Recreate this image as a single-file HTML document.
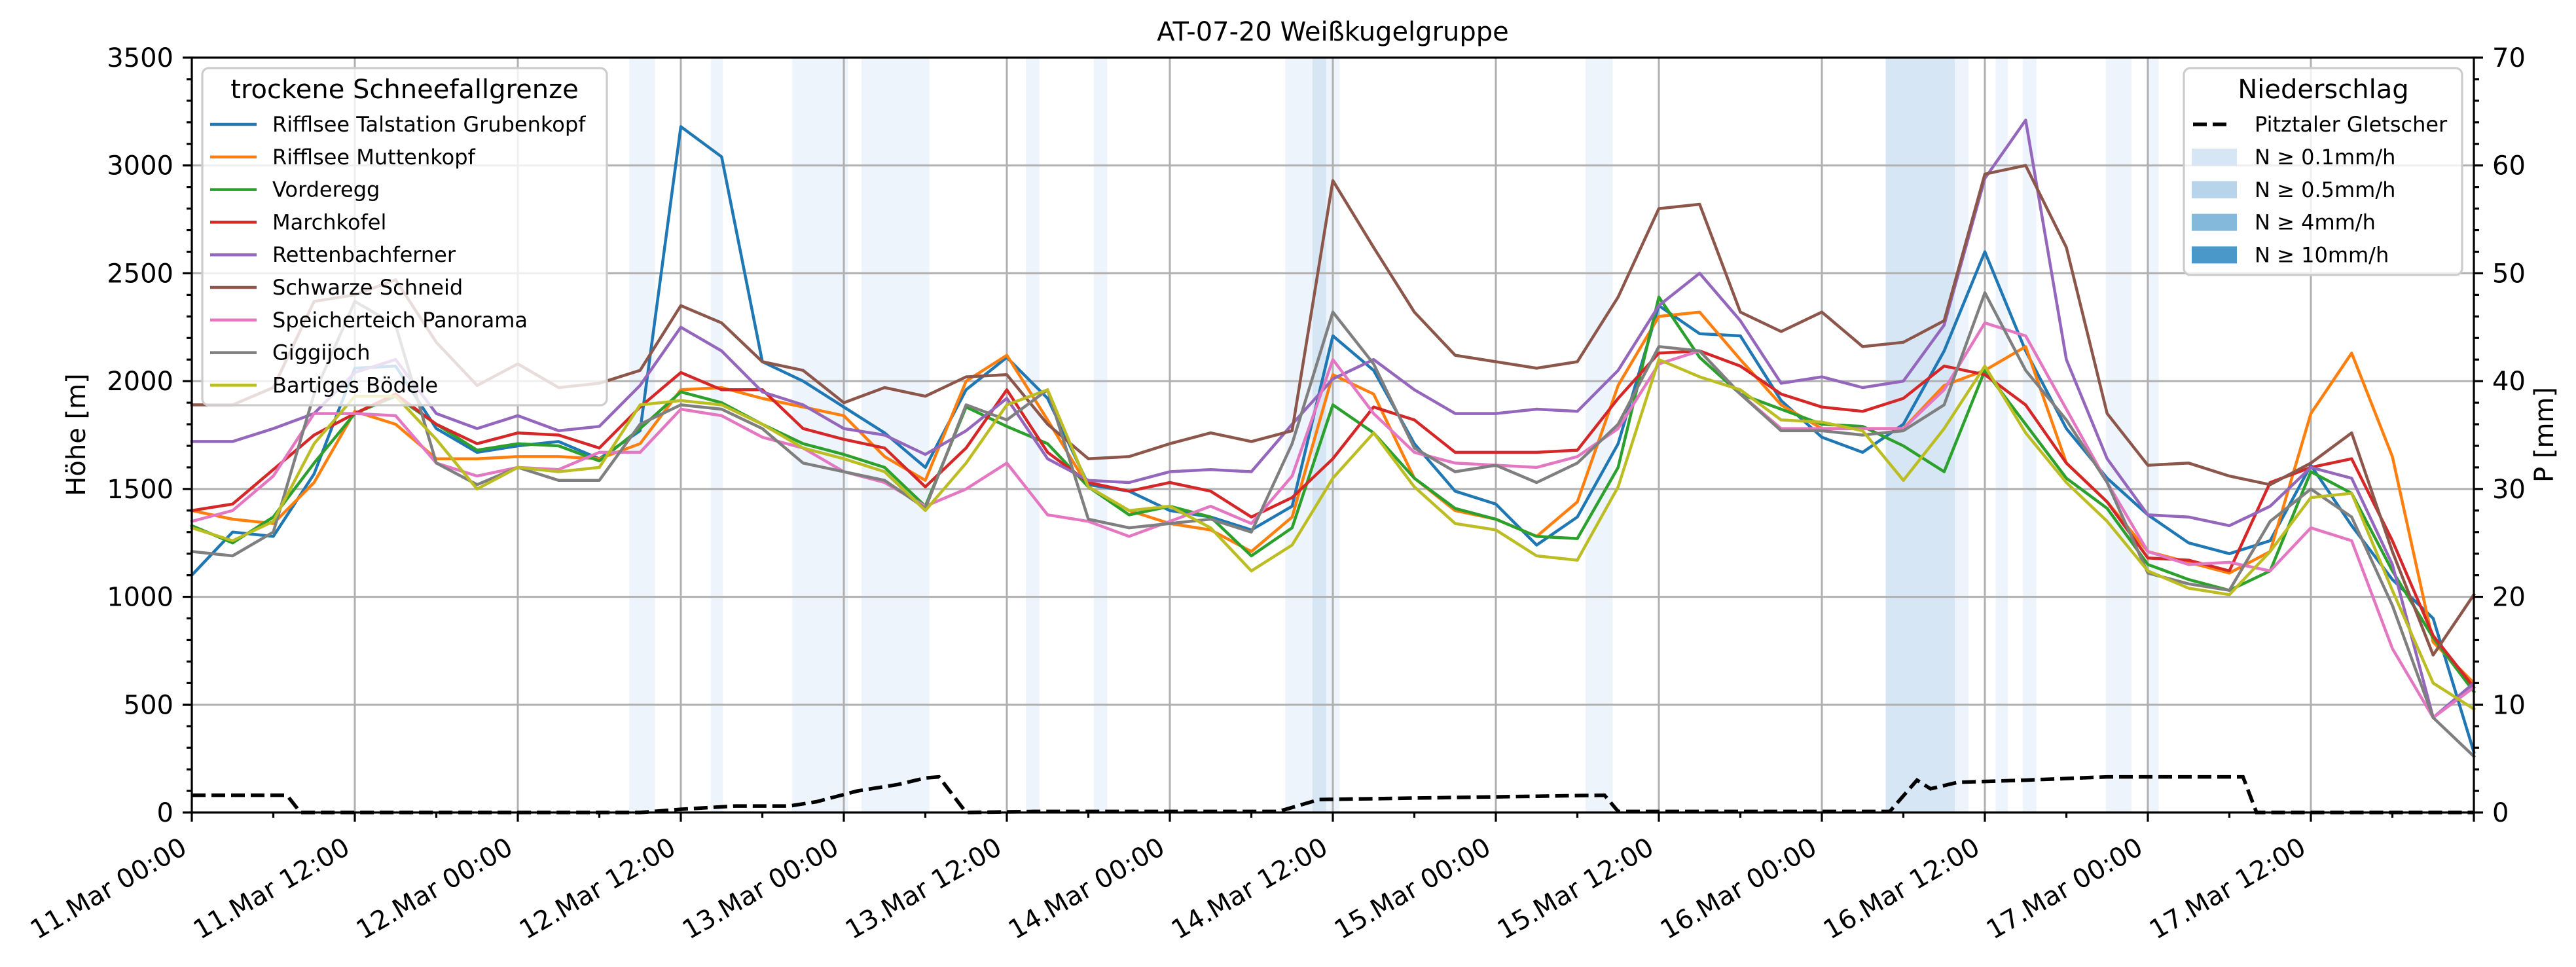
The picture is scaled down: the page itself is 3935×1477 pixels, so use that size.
<!DOCTYPE html>
<html><head><meta charset="utf-8"><title>AT-07-20 Weißkugelgruppe</title>
<style>
html,body{margin:0;padding:0;background:#fff;}
svg{display:block;font-family:"DejaVu Sans","Liberation Sans",sans-serif;}
</style></head>
<body>
<svg id="chart" xmlns="http://www.w3.org/2000/svg" width="3935" height="1477" viewBox="0 0 3935 1477">
<rect x="0" y="0" width="3935" height="1477" fill="#fff"/>
<g id="bands"></g>
<g id="grid"></g>
<g id="series"></g>
<g id="precip"></g>
<g id="axes"></g>
<text x="2036" y="62" font-size="40" text-anchor="middle">AT-07-20 Weißkugelgruppe</text>
<text transform="translate(130,664) rotate(-90)" font-size="40" text-anchor="middle">Höhe [m]</text>
<text transform="translate(3900,664) rotate(-90)" font-size="40" text-anchor="middle">P [mm]</text>
<g id="legend-left"></g>
<g id="legend-right"></g>
</svg>
<script>
const hours = [0,3,6,9,12,15,18,21,24,27,30,33,36,39,42,45,48,51,54,57,60,63,66,69,72,75,78,81,84,87,90,93,96,99,102,105,108,111,114,117,120,123,126,129,132,135,138,141,144,147,150,153,156,159,162,165,168];
const seriesNames = ["Rifflsee Talstation Grubenkopf","Rifflsee Muttenkopf","Vorderegg","Marchkofel","Rettenbachferner","Schwarze Schneid","Speicherteich Panorama","Giggijoch","Bartiges Bödele"];
const seriesColors = ["#1f77b4","#ff7f0e","#2ca02c","#d62728","#9467bd","#8c564b","#e377c2","#7f7f7f","#bcbd22"];
const blueVals = [1100,1300,1280,1570,2060,2070,1780,1670,1700,1720,1640,1770,3180,3040,2090,2000,1880,1760,1600,1960,2110,1920,1520,1490,1400,1370,1310,1420,2210,2050,1710,1490,1430,1240,1370,1710,2350,2220,2210,1910,1740,1670,1800,2140,2600,2140,1780,1550,1380,1250,1200,1260,1610,1330,1080,900,280];
const orangeVals = [1400,1360,1340,1530,1860,1800,1640,1640,1650,1650,1640,1710,1960,1970,1920,1880,1840,1650,1540,2000,2120,1820,1510,1400,1340,1310,1210,1370,2030,1940,1550,1400,1360,1280,1440,1980,2300,2320,2100,1890,1780,1780,1780,1980,2050,2160,1620,1440,1210,1160,1110,1210,1850,2130,1650,790,600];
const greenVals = [1330,1250,1370,1620,1850,1930,1800,1680,1710,1700,1630,1780,1950,1900,1800,1710,1660,1600,1420,1880,1790,1710,1510,1380,1420,1370,1190,1320,1890,1760,1550,1410,1360,1280,1270,1600,2390,2110,1940,1870,1800,1790,1700,1580,2050,1800,1550,1410,1150,1080,1030,1120,1580,1480,1120,810,560];
const redVals = [1400,1430,1590,1750,1850,1940,1800,1710,1760,1750,1690,1880,2040,1960,1960,1780,1730,1690,1510,1690,1960,1670,1530,1490,1530,1490,1370,1460,1640,1880,1820,1670,1670,1670,1680,1920,2130,2140,2070,1940,1880,1860,1920,2070,2030,1890,1620,1440,1180,1170,1120,1530,1600,1640,1260,820,580];
const purpleVals = [1720,1720,1780,1850,2040,2100,1850,1780,1840,1770,1790,1980,2250,2140,1950,1890,1780,1750,1660,1770,1920,1640,1540,1530,1580,1590,1580,1800,2010,2100,1960,1850,1850,1870,1860,2050,2350,2500,2280,1990,2020,1970,2000,2260,2940,3210,2100,1640,1380,1370,1330,1420,1600,1550,1150,440,600];
const brownVals = [1890,1890,1970,2370,2400,2470,2180,1980,2080,1970,1990,2050,2350,2270,2090,2050,1900,1970,1930,2020,2030,1800,1640,1650,1710,1760,1720,1770,2930,2620,2320,2120,2090,2060,2090,2390,2800,2820,2320,2230,2320,2160,2180,2280,2960,3000,2620,1850,1610,1620,1560,1520,1620,1760,1210,730,1010];
const pinkVals = [1350,1400,1560,1850,1850,1840,1620,1560,1600,1590,1670,1670,1870,1840,1740,1690,1580,1530,1420,1500,1620,1380,1350,1280,1350,1420,1340,1560,2100,1850,1670,1620,1610,1600,1650,1780,2080,2140,1940,1780,1780,1780,1780,1960,2270,2210,1870,1530,1210,1150,1160,1120,1320,1260,760,440,580];
const grayVals = [1210,1190,1300,1940,2370,2260,1620,1520,1600,1540,1540,1800,1890,1870,1780,1620,1580,1540,1410,1890,1820,1960,1360,1320,1340,1360,1300,1710,2320,2080,1690,1580,1610,1530,1620,1800,2160,2140,1940,1770,1770,1750,1770,1890,2410,2050,1820,1530,1110,1060,1030,1350,1500,1370,960,440,260];
const oliveVals = [1320,1260,1350,1710,1930,1930,1730,1500,1600,1580,1600,1890,1910,1890,1800,1690,1640,1580,1400,1620,1890,1960,1510,1400,1420,1320,1120,1240,1550,1760,1510,1340,1310,1190,1170,1510,2100,2020,1960,1820,1810,1770,1540,1780,2070,1760,1530,1350,1120,1040,1010,1210,1460,1480,1030,600,480];
const precipHours = [0,7,8,33,36,40,44,46,49,52,54,55,57,62,80,83,104,105,125,127,128,130,135,141,151,152,168];
const precipVals = [1.6,1.6,0,0,0.3,0.6,0.6,1.0,2.0,2.6,3.2,3.3,0,0.1,0.1,1.2,1.6,0.1,0.1,3.0,2.2,2.8,3.0,3.3,3.3,0,0];
const bandStart = [32.2,38.2,44.2,49.3,61.4,66.4,80.5,82.5,102.6,124.7,129.8,132.8,134.8,140.9,143.9];
const bandEnd = [34.1,39.1,48.3,54.3,62.4,67.4,84.5,83.5,104.6,129.8,130.8,133.7,135.8,142.8,144.8];
const bandLevel = [0,0,0,0,0,0,0,1,0,1,0,0,0,0,0];
const yTicks = [0,500,1000,1500,2000,2500,3000,3500];
const y2Ticks = [0,10,20,30,40,50,60,70];
const xTickHours = [0,12,24,36,48,60,72,84,96,108,120,132,144,156];
const xTickLabels = ["11.Mar 00:00","11.Mar 12:00","12.Mar 00:00","12.Mar 12:00","13.Mar 00:00","13.Mar 12:00","14.Mar 00:00","14.Mar 12:00","15.Mar 00:00","15.Mar 12:00","16.Mar 00:00","16.Mar 12:00","17.Mar 00:00","17.Mar 12:00"];
const legendPrecipLabels = ["N ≥ 0.1mm/h","N ≥ 0.5mm/h","N ≥ 4mm/h","N ≥ 10mm/h"];
const legendPrecipColors = ["#d6e6f4","#b7d4ea","#84b9db","#4a98c9"];
const bandColors = ["#eef4fb","#d6e6f4"];

const NS="http://www.w3.org/2000/svg";
const L=293,R=3779,T=88,B=1241;
const xMax=168,yMax=3500,y2Max=70;
const X=h=>L+h/xMax*(R-L);
const Y=v=>B-v/yMax*(B-T);
const Y2=p=>B-p/y2Max*(B-T);
function mk(tag,attrs,parent){const e=document.createElementNS(NS,tag);for(const k in attrs)e.setAttribute(k,attrs[k]);parent.appendChild(e);return e;}

const gB=document.getElementById('bands');
bandStart.forEach((s,i)=>{
  const r=mk('rect',{x:X(s),y:T,width:X(bandEnd[i])-X(s),height:B-T,fill:bandColors[bandLevel[i]]},gB);
  
  
});

const gG=document.getElementById('grid');
xTickHours.forEach(h=>{
  const l=mk('line',{x1:X(h),x2:X(h),y1:T,y2:B,stroke:'#b0b0b0','stroke-width':3},gG);
  
  
});
yTicks.forEach(v=>{
  const l=mk('line',{x1:L,x2:R,y1:Y(v),y2:Y(v),stroke:'#b0b0b0','stroke-width':3},gG);
  
  
});

const allVals=[blueVals,orangeVals,greenVals,redVals,purpleVals,brownVals,pinkVals,grayVals,oliveVals];
const gS=document.getElementById('series');
allVals.forEach((vals,i)=>{
  const pts=vals.map((v,j)=>X(hours[j]).toFixed(1)+','+Y(v).toFixed(1)).join(' ');
  const p=mk('polyline',{points:pts,fill:'none',stroke:seriesColors[i],'stroke-width':4.5,'stroke-linejoin':'round','stroke-linecap':'square'},gS);
  
  
});

const gP=document.getElementById('precip');
const pp=mk('polyline',{points:precipVals.map((v,j)=>X(precipHours[j]).toFixed(1)+','+Y2(v).toFixed(1)).join(' '),fill:'none',stroke:'#000','stroke-width':5.5,'stroke-dasharray':'21 9'},gP);



const gA=document.getElementById('axes');
const frame=mk('rect',{x:L,y:T,width:R-L,height:B-T,fill:'none',stroke:'#000','stroke-width':3.2},gA);


for(let h=0;h<=xMax;h+=6){
  const major=h%12===0;
  const t=mk('line',{x1:X(h),x2:X(h),y1:B,y2:B+(major?14:8),stroke:'#000','stroke-width':3.2},gA);
  
  
}
xTickHours.forEach((h,i)=>{
  const px=X(h)-5,py=1302;
  const t=mk('text',{x:px,y:py,'font-size':40,'text-anchor':'end',transform:`rotate(-30 ${px} ${py})`},gA);
  t.textContent=xTickLabels[i];
  
  
});
for(let v=0;v<=yMax;v+=100){
  const major=v%500===0;
  const t=mk('line',{x1:L,x2:L-(major?14:8),y1:Y(v),y2:Y(v),stroke:'#000','stroke-width':3.2},gA);
  
  
}
yTicks.forEach(v=>{
  const t=mk('text',{x:265,y:Y(v)+14,'font-size':40,'text-anchor':'end'},gA);
  t.textContent=v;
  
  
});
for(let p=0;p<=y2Max;p+=2){
  const major=p%10===0;
  const t=mk('line',{x1:R,x2:R+(major?14:8),y1:Y2(p),y2:Y2(p),stroke:'#000','stroke-width':3.2},gA);
  
  
}
y2Ticks.forEach(p=>{
  const t=mk('text',{x:3807,y:Y2(p)+14,'font-size':40,'text-anchor':'start'},gA);
  t.textContent=p;
  
  
});

// left legend
const gL=document.getElementById('legend-left');
const lb=mk('rect',{x:309,y:104,width:618,height:515,rx:10,fill:'#fff','fill-opacity':0.8,stroke:'#cccccc','stroke-width':3.2},gL);


const lt=mk('text',{x:618,y:150,'font-size':40,'text-anchor':'middle'},gL);
lt.textContent='trockene Schneefallgrenze';


seriesNames.forEach((n,i)=>{
  const cy=190+i*49.8;
  const hl=mk('line',{x1:321,x2:392,y1:cy,y2:cy,stroke:seriesColors[i],'stroke-width':4.5},gL);
  
  
  const tx=mk('text',{x:416,y:cy+11,'font-size':32},gL);
  tx.textContent=n;
  
  
});

// right legend
const gR=document.getElementById('legend-right');
const rb=mk('rect',{x:3336,y:104,width:425,height:316,rx:10,fill:'#fff','fill-opacity':0.8,stroke:'#cccccc','stroke-width':3.2},gR);


const rt=mk('text',{x:3549,y:150,'font-size':40,'text-anchor':'middle'},gR);
rt.textContent='Niederschlag';


const dl=mk('line',{x1:3350,x2:3405,y1:190,y2:190,stroke:'#000','stroke-width':5.5,'stroke-dasharray':'21 9'},gR);


const dt=mk('text',{x:3444,y:201,'font-size':32},gR);
dt.textContent='Pitztaler Gletscher';


legendPrecipLabels.forEach((n,i)=>{
  const cy=240+i*49.8;
  const sw=mk('rect',{x:3348,y:cy-13,width:69,height:26,fill:legendPrecipColors[i]},gR);
  
  
  const tx=mk('text',{x:3444,y:cy+11,'font-size':32},gR);
  tx.textContent=n;
  
  
});
</script>
</body></html>
